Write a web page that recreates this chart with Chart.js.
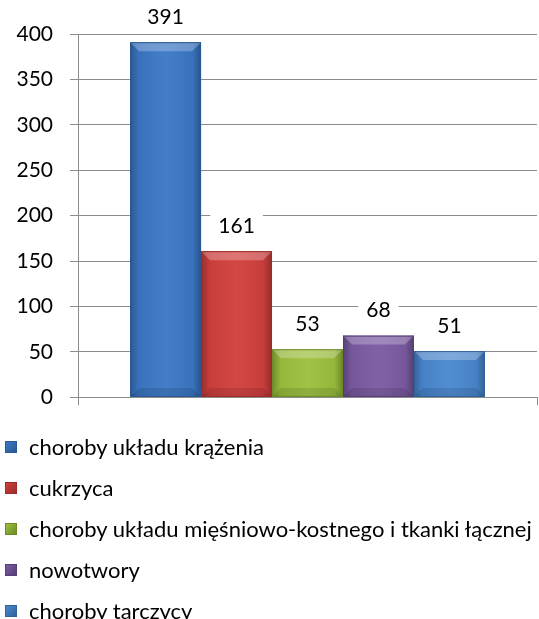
<!DOCTYPE html>
<html>
<head>
<meta charset="utf-8">
<script src="https://cdn.jsdelivr.net/npm/chart.js@4"></script>
<style>
    body { margin: 0; background: #fff; font-family: Lato, 'Open Sans', sans-serif; overflow: hidden; }
    #wrap { position: relative; width: 539px; height: 427px; }
    #legend { position: absolute; left: 5px; top: 426px; }
    .item { display: flex; align-items: center; height: 41px; font-size: 22px; color: #000; }
    .box { width: 12px; height: 12px; margin-right: 12px; box-sizing: border-box; }
</style>
</head>
<body>
<div id="wrap"><canvas id="chart"></canvas></div>
<div id="legend"></div>
<script>
// --- Data ---
const categories = [''];
const seriesNames = [
    'choroby układu krążenia',
    'cukrzyca',
    'choroby układu mięśniowo-kostnego i tkanki łącznej',
    'nowotwory',
    'choroby tarczycy'
];
const seriesValues = [391, 161, 53, 68, 51];
const seriesColors = ['#3c78c6', '#d1403d', '#9cc03e', '#7b5ba3', '#4a88d0'];
const seriesBorders = ['#2a5894', '#9a2c2a', '#6e8a28', '#563e78', '#30639c'];
const yTicks = [0, 50, 100, 150, 200, 250, 300, 350, 400];

const FONT = "Lato, 'Open Sans', sans-serif";

// --- Bevel look on bars ---
const bevelPlugin = {
    id: 'bevel',
    afterDatasetsDraw(chart) {
        const ctx = chart.ctx;
        chart.data.datasets.forEach((ds, i) => {
            chart.getDatasetMeta(i).data.forEach(bar => {
                const left = bar.x - bar.width / 2;
                const right = bar.x + bar.width / 2;
                const top = bar.y;
                const bottom = bar.base;
                const e = 9;
                ctx.save();
                // sides darker
                const g = ctx.createLinearGradient(left, 0, right, 0);
                g.addColorStop(0, 'rgba(0,0,0,0.28)');
                g.addColorStop(0.12, 'rgba(0,0,0,0.05)');
                g.addColorStop(0.5, 'rgba(255,255,255,0.04)');
                g.addColorStop(0.88, 'rgba(0,0,0,0.05)');
                g.addColorStop(1, 'rgba(0,0,0,0.3)');
                ctx.fillStyle = g;
                ctx.fillRect(left, top, right - left, bottom - top);
                // top bevel lighter
                ctx.beginPath();
                ctx.moveTo(left, top);
                ctx.lineTo(right, top);
                ctx.lineTo(right - e, top + e);
                ctx.lineTo(left + e, top + e);
                ctx.closePath();
                ctx.fillStyle = 'rgba(255,255,255,0.25)';
                ctx.fill();
                // bottom bevel darker
                ctx.beginPath();
                ctx.moveTo(left, bottom);
                ctx.lineTo(right, bottom);
                ctx.lineTo(right - e, bottom - e);
                ctx.lineTo(left + e, bottom - e);
                ctx.closePath();
                ctx.fillStyle = 'rgba(0,0,0,0.1)';
                ctx.fill();
                ctx.strokeStyle = seriesBorders[i];
                ctx.lineWidth = 1;
                ctx.strokeRect(left + 0.5, top + 0.5, right - left - 1, bottom - top - 1);
                ctx.restore();
            });
        });
    }
};

// --- Value labels above bars ---
const valueLabels = {
    id: 'valueLabels',
    afterDraw(chart) {
        const ctx = chart.ctx;
        ctx.save();
        ctx.font = '21px ' + FONT;
        ctx.textAlign = 'center';
        ctx.textBaseline = 'middle';
        chart.data.datasets.forEach((ds, i) => {
            chart.getDatasetMeta(i).data.forEach((bar, j) => {
                const txt = String(ds.data[j]);
                const y = bar.y - 25;
                const w = ctx.measureText(txt).width + 16;
                ctx.fillStyle = '#fff';
                ctx.fillRect(bar.x - w / 2, y - 12, w, 24);
                ctx.fillStyle = '#000';
                ctx.fillText(txt, bar.x, y);
            });
        });
        ctx.restore();
    }
};

new Chart(document.getElementById('chart'), {
    type: 'bar',
    data: {
        labels: categories,
        datasets: seriesNames.map((name, i) => ({
            label: name,
            data: [seriesValues[i]],
            backgroundColor: seriesColors[i],
            borderWidth: 0,
            barPercentage: 1,
            categoryPercentage: 0.773
        }))
    },
    options: {
        responsive: true,
        maintainAspectRatio: false,
        animation: false,
        layout: { padding: { top: 34, right: 2, left: 0, bottom: 0 } },
        plugins: {
            legend: { display: false },
            tooltip: { enabled: false }
        },
        scales: {
            x: {
                grid: { display: true, drawOnChartArea: false, color: '#8c8c8c', tickLength: 8 },
                border: { color: '#8c8c8c' },
                ticks: { display: false },
                afterFit: s => { s.height = 23; }
            },
            y: {
                min: 0,
                max: 400,
                afterBuildTicks: s => { s.ticks = yTicks.map(v => ({ value: v })); },
                grid: { color: '#8c8c8c', tickLength: 8 },
                border: { color: '#8c8c8c' },
                ticks: { color: '#000', font: { size: 21, family: FONT }, padding: 17 },
                afterFit: s => { s.width = 78; }
            }
        }
    },
    plugins: [bevelPlugin, valueLabels]
});

// --- Legend ---
const legend = document.getElementById('legend');
legend.innerHTML = seriesNames.map((name, i) => `
    <div class="item">
        <span class="box" style="background: linear-gradient(135deg, ${seriesColors[i]}, ${seriesBorders[i]}); border: 1px solid ${seriesBorders[i]};"></span>
        <span>${name}</span>
    </div>
`).join('');
</script>
</body>
</html>
